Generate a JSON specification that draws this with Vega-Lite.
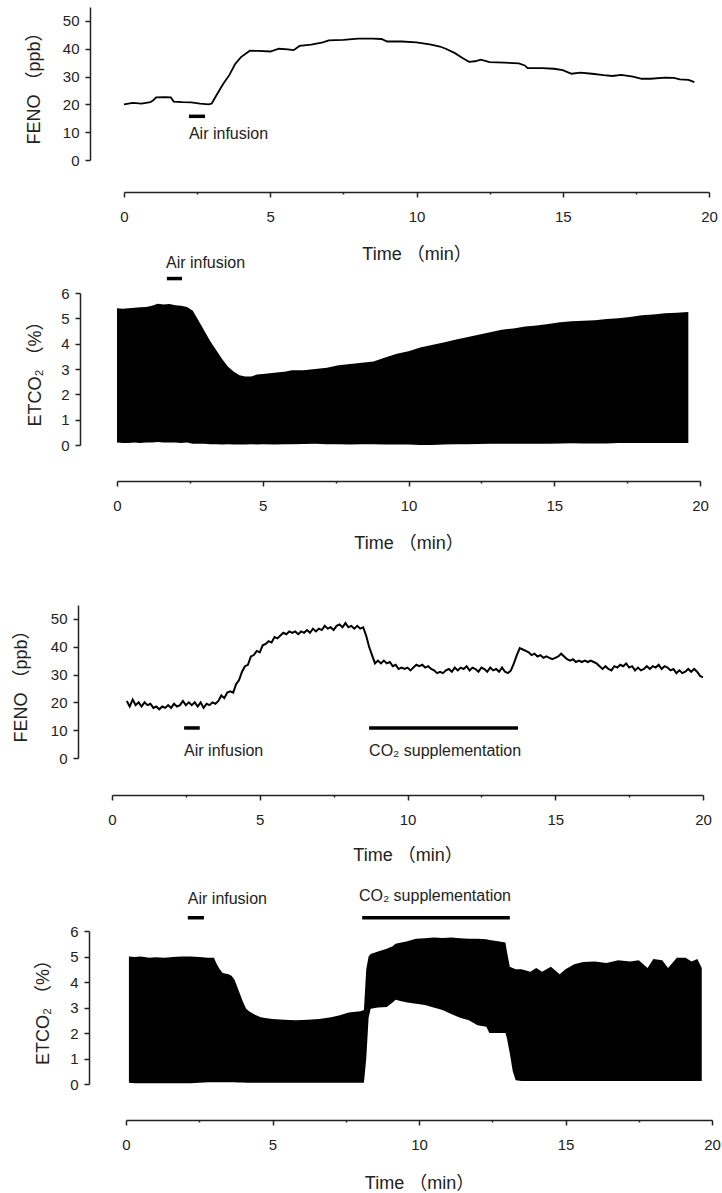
{
  "$schema": "https://vega.github.io/schema/vega-lite/v6.json",
  "padding": {"left": 12, "top": 7, "right": 5, "bottom": 5},
  "bounds": "flush",
  "spacing": 0,
  "config": {
    "view": {"stroke": null},
    "axis": {
      "grid": false,
      "domainColor": "#222",
      "domainWidth": 1.5,
      "tickColor": "#222",
      "tickWidth": 1.5,
      "labelFont": "Liberation Sans",
      "labelFontSize": 15,
      "labelColor": "#222",
      "titleFont": "Liberation Sans, Noto Sans CJK SC",
      "titleFontSize": 18,
      "titleFontWeight": "normal",
      "titleColor": "#222",
      "labelFlush": false,
      "labelOverlap": false
    },
    "axisX": {"tickSize": {"condition": {"test": "datum.value % 5 === 0", "value": 5}, "value": 2}},
    "text": {"font": "Liberation Sans, Noto Sans CJK SC", "fontSize": 16, "color": "#222"}
  },
  "datasets": {
    "fe1": [
      {"t":0.0,"v":20.0},{"t":0.3,"v":20.5},{"t":0.6,"v":20.3},{"t":0.9,"v":20.8},{"t":1.0,"v":21.5},{"t":1.1,"v":22.5},{"t":1.4,"v":22.6},{"t":1.6,"v":22.5},{"t":1.7,"v":21.0},{"t":2.0,"v":20.8},{"t":2.3,"v":20.7},{"t":2.6,"v":20.3},{"t":2.9,"v":20.0},{"t":3.0,"v":20.3},{"t":3.2,"v":24},{"t":3.4,"v":27.5},{"t":3.6,"v":30.5},{"t":3.8,"v":34.5},{"t":4.0,"v":37},{"t":4.3,"v":39.3},{"t":4.6,"v":39.2},{"t":5.0,"v":39},{"t":5.3,"v":40},{"t":5.6,"v":39.8},{"t":5.8,"v":39.5},{"t":6.0,"v":41},{"t":6.4,"v":41.5},{"t":6.8,"v":42.3},{"t":7.0,"v":43},{"t":7.5,"v":43.2},{"t":8.0,"v":43.6},{"t":8.5,"v":43.6},{"t":8.8,"v":43.5},{"t":9.0,"v":42.6},{"t":9.5,"v":42.6},{"t":10.0,"v":42.3},{"t":10.5,"v":41.5},{"t":10.8,"v":40.8},{"t":11.0,"v":40},{"t":11.3,"v":38.5},{"t":11.6,"v":36.5},{"t":11.8,"v":35.3},{"t":12.0,"v":35.5},{"t":12.2,"v":36.1},{"t":12.5,"v":35.2},{"t":13.0,"v":35.0},{"t":13.5,"v":34.7},{"t":13.7,"v":34},{"t":13.8,"v":33},{"t":14.3,"v":33.0},{"t":14.7,"v":32.8},{"t":15.0,"v":32.3},{"t":15.3,"v":31},{"t":15.6,"v":31.4},{"t":16.0,"v":31},{"t":16.4,"v":30.5},{"t":16.7,"v":30.2},{"t":17.0,"v":30.6},{"t":17.4,"v":30},{"t":17.7,"v":29.2},{"t":18.0,"v":29.2},{"t":18.5,"v":29.6},{"t":18.8,"v":29.5},{"t":19.0,"v":29},{"t":19.3,"v":28.8},{"t":19.5,"v":28.0}
    ],
    "et2": [
      {"t":0.0,"v":5.4,"v2":0.1},{"t":0.2,"v":5.38,"v2":0.08},{"t":0.4,"v":5.4,"v2":0.08},{"t":0.6,"v":5.42,"v2":0.1},{"t":0.8,"v":5.44,"v2":0.08},{"t":1.0,"v":5.45,"v2":0.1},{"t":1.2,"v":5.5,"v2":0.1},{"t":1.4,"v":5.58,"v2":0.12},{"t":1.6,"v":5.55,"v2":0.1},{"t":1.8,"v":5.57,"v2":0.1},{"t":2.0,"v":5.52,"v2":0.1},{"t":2.2,"v":5.5,"v2":0.08},{"t":2.4,"v":5.45,"v2":0.1},{"t":2.6,"v":5.3,"v2":0.05},{"t":2.8,"v":4.9,"v2":0.05},{"t":3.0,"v":4.5,"v2":0.05},{"t":3.2,"v":4.1,"v2":0.03},{"t":3.4,"v":3.75,"v2":0.03},{"t":3.6,"v":3.4,"v2":0.02},{"t":3.8,"v":3.1,"v2":0.03},{"t":4.0,"v":2.9,"v2":0.02},{"t":4.2,"v":2.75,"v2":0.02},{"t":4.4,"v":2.7,"v2":0.02},{"t":4.6,"v":2.7,"v2":0.03},{"t":4.8,"v":2.78,"v2":0.02},{"t":5.0,"v":2.8,"v2":0.03},{"t":5.4,"v":2.85,"v2":0.02},{"t":5.8,"v":2.9,"v2":0.03},{"t":6.0,"v":2.95,"v2":0.03},{"t":6.4,"v":2.95,"v2":0.04},{"t":6.8,"v":3.0,"v2":0.05},{"t":7.2,"v":3.05,"v2":0.03},{"t":7.6,"v":3.15,"v2":0.03},{"t":8.0,"v":3.2,"v2":0.02},{"t":8.4,"v":3.25,"v2":0.03},{"t":8.8,"v":3.3,"v2":0.03},{"t":9.2,"v":3.45,"v2":0.02},{"t":9.6,"v":3.6,"v2":0.02},{"t":10.0,"v":3.7,"v2":0.02},{"t":10.4,"v":3.85,"v2":0.0},{"t":10.8,"v":3.95,"v2":0.0},{"t":11.2,"v":4.05,"v2":0.02},{"t":11.6,"v":4.15,"v2":0.03},{"t":12.0,"v":4.25,"v2":0.03},{"t":12.4,"v":4.35,"v2":0.04},{"t":12.8,"v":4.45,"v2":0.05},{"t":13.2,"v":4.55,"v2":0.05},{"t":13.6,"v":4.6,"v2":0.05},{"t":14.0,"v":4.68,"v2":0.05},{"t":14.4,"v":4.72,"v2":0.05},{"t":14.8,"v":4.78,"v2":0.05},{"t":15.2,"v":4.85,"v2":0.06},{"t":15.6,"v":4.88,"v2":0.07},{"t":16.0,"v":4.9,"v2":0.06},{"t":16.4,"v":4.92,"v2":0.06},{"t":16.8,"v":4.97,"v2":0.06},{"t":17.2,"v":5.0,"v2":0.08},{"t":17.6,"v":5.05,"v2":0.08},{"t":18.0,"v":5.12,"v2":0.08},{"t":18.4,"v":5.15,"v2":0.08},{"t":18.8,"v":5.2,"v2":0.08},{"t":19.2,"v":5.22,"v2":0.08},{"t":19.6,"v":5.25,"v2":0.08}
    ],
    "fe3": [
      {"t":0.5,"v":20.5},{"t":0.6,"v":18.5},{"t":0.7,"v":21},{"t":0.8,"v":19},{"t":0.9,"v":20},{"t":1.0,"v":18.5},{"t":1.1,"v":20},{"t":1.2,"v":19},{"t":1.3,"v":19.5},{"t":1.4,"v":18},{"t":1.5,"v":18.5},{"t":1.6,"v":17.5},{"t":1.7,"v":18.5},{"t":1.8,"v":18},{"t":1.9,"v":19},{"t":2.0,"v":18},{"t":2.1,"v":19.5},{"t":2.2,"v":18.5},{"t":2.3,"v":19},{"t":2.4,"v":20.5},{"t":2.5,"v":19},{"t":2.6,"v":20},{"t":2.7,"v":19},{"t":2.8,"v":20},{"t":2.9,"v":18.5},{"t":3.0,"v":20},{"t":3.1,"v":18},{"t":3.2,"v":19.5},{"t":3.3,"v":19},{"t":3.4,"v":20},{"t":3.5,"v":19.5},{"t":3.6,"v":20.5},{"t":3.7,"v":22.5},{"t":3.8,"v":21.5},{"t":3.9,"v":23.5},{"t":4.0,"v":24},{"t":4.1,"v":23.5},{"t":4.2,"v":26.5},{"t":4.3,"v":28},{"t":4.4,"v":31},{"t":4.5,"v":33},{"t":4.6,"v":33.5},{"t":4.7,"v":36.5},{"t":4.8,"v":37},{"t":4.9,"v":38.5},{"t":5.0,"v":38},{"t":5.1,"v":40.5},{"t":5.2,"v":41},{"t":5.3,"v":42},{"t":5.4,"v":41.5},{"t":5.5,"v":43.5},{"t":5.6,"v":43},{"t":5.7,"v":44},{"t":5.8,"v":45},{"t":5.9,"v":44.5},{"t":6.0,"v":45.5},{"t":6.1,"v":45},{"t":6.2,"v":45.5},{"t":6.3,"v":44.5},{"t":6.4,"v":45.5},{"t":6.5,"v":45},{"t":6.6,"v":46},{"t":6.7,"v":45},{"t":6.8,"v":46.5},{"t":6.9,"v":45.5},{"t":7.0,"v":46.5},{"t":7.1,"v":46},{"t":7.2,"v":47.5},{"t":7.3,"v":46.5},{"t":7.4,"v":47},{"t":7.5,"v":46},{"t":7.6,"v":47.5},{"t":7.7,"v":48},{"t":7.8,"v":47},{"t":7.9,"v":48.5},{"t":8.0,"v":47},{"t":8.1,"v":47.5},{"t":8.2,"v":46.5},{"t":8.3,"v":47.5},{"t":8.4,"v":46.5},{"t":8.5,"v":47},{"t":8.6,"v":44},{"t":8.7,"v":40},{"t":8.8,"v":37},{"t":8.9,"v":34},{"t":9.0,"v":35},{"t":9.1,"v":34},{"t":9.2,"v":35},{"t":9.3,"v":34},{"t":9.4,"v":34.5},{"t":9.5,"v":33},{"t":9.6,"v":33.5},{"t":9.7,"v":32},{"t":9.8,"v":32.5},{"t":9.9,"v":32},{"t":10.0,"v":32.5},{"t":10.1,"v":31.5},{"t":10.2,"v":32.5},{"t":10.3,"v":33.5},{"t":10.4,"v":33},{"t":10.5,"v":33.5},{"t":10.6,"v":32.5},{"t":10.7,"v":33},{"t":10.8,"v":32},{"t":10.9,"v":31.5},{"t":11.0,"v":30.5},{"t":11.1,"v":31},{"t":11.2,"v":30.5},{"t":11.3,"v":31.5},{"t":11.4,"v":32},{"t":11.5,"v":31},{"t":11.6,"v":32.5},{"t":11.7,"v":31.5},{"t":11.8,"v":32.5},{"t":11.9,"v":32},{"t":12.0,"v":33},{"t":12.1,"v":31.5},{"t":12.2,"v":32.5},{"t":12.3,"v":32},{"t":12.4,"v":31},{"t":12.5,"v":32.5},{"t":12.6,"v":32},{"t":12.7,"v":31},{"t":12.8,"v":32.5},{"t":12.9,"v":31.5},{"t":13.0,"v":32},{"t":13.1,"v":31},{"t":13.2,"v":32.5},{"t":13.3,"v":31},{"t":13.4,"v":30.5},{"t":13.5,"v":31.5},{"t":13.6,"v":34},{"t":13.7,"v":37},{"t":13.8,"v":39.5},{"t":13.9,"v":39},{"t":14.0,"v":38.5},{"t":14.1,"v":38},{"t":14.2,"v":37},{"t":14.3,"v":37.5},{"t":14.4,"v":36.5},{"t":14.5,"v":37},{"t":14.6,"v":36},{"t":14.7,"v":36.5},{"t":14.8,"v":36},{"t":14.9,"v":35.5},{"t":15.0,"v":36},{"t":15.1,"v":36.5},{"t":15.2,"v":37.5},{"t":15.3,"v":36.5},{"t":15.4,"v":35.5},{"t":15.5,"v":35},{"t":15.6,"v":35.5},{"t":15.7,"v":34.5},{"t":15.8,"v":35},{"t":15.9,"v":34.5},{"t":16.0,"v":35},{"t":16.1,"v":34.5},{"t":16.2,"v":35},{"t":16.3,"v":34.5},{"t":16.4,"v":34},{"t":16.5,"v":33},{"t":16.6,"v":32},{"t":16.7,"v":33},{"t":16.8,"v":32},{"t":16.9,"v":31.5},{"t":17.0,"v":33},{"t":17.1,"v":32.5},{"t":17.2,"v":33.5},{"t":17.3,"v":33},{"t":17.4,"v":34},{"t":17.5,"v":32.5},{"t":17.6,"v":33},{"t":17.7,"v":31.5},{"t":17.8,"v":32.5},{"t":17.9,"v":31.5},{"t":18.0,"v":32},{"t":18.1,"v":33},{"t":18.2,"v":32},{"t":18.3,"v":33},{"t":18.4,"v":32.5},{"t":18.5,"v":33.5},{"t":18.6,"v":32},{"t":18.7,"v":33},{"t":18.8,"v":32.5},{"t":18.9,"v":31.5},{"t":19.0,"v":32},{"t":19.1,"v":30.5},{"t":19.2,"v":31.5},{"t":19.3,"v":30.5},{"t":19.4,"v":31},{"t":19.5,"v":32},{"t":19.6,"v":31},{"t":19.7,"v":32},{"t":19.8,"v":31},{"t":19.9,"v":29.5},{"t":20.0,"v":29}
    ],
    "et4": [
      {"t":0.1,"v":5.0,"v2":0.05},{"t":0.3,"v":4.98,"v2":0.03},{"t":0.5,"v":5.0,"v2":0.03},{"t":0.8,"v":4.95,"v2":0.03},{"t":1.0,"v":4.97,"v2":0.03},{"t":1.3,"v":4.95,"v2":0.03},{"t":1.6,"v":4.98,"v2":0.03},{"t":1.9,"v":5.0,"v2":0.03},{"t":2.2,"v":5.0,"v2":0.03},{"t":2.5,"v":4.98,"v2":0.05},{"t":2.8,"v":4.95,"v2":0.07},{"t":3.0,"v":4.95,"v2":0.07},{"t":3.1,"v":4.7,"v2":0.07},{"t":3.2,"v":4.5,"v2":0.07},{"t":3.3,"v":4.35,"v2":0.07},{"t":3.5,"v":4.3,"v2":0.07},{"t":3.6,"v":4.25,"v2":0.07},{"t":3.7,"v":4.1,"v2":0.07},{"t":3.8,"v":3.8,"v2":0.06},{"t":3.9,"v":3.5,"v2":0.06},{"t":4.0,"v":3.2,"v2":0.06},{"t":4.1,"v":2.95,"v2":0.05},{"t":4.2,"v":2.85,"v2":0.05},{"t":4.4,"v":2.72,"v2":0.05},{"t":4.6,"v":2.62,"v2":0.05},{"t":4.8,"v":2.58,"v2":0.05},{"t":5.0,"v":2.55,"v2":0.05},{"t":5.4,"v":2.52,"v2":0.05},{"t":5.8,"v":2.5,"v2":0.05},{"t":6.2,"v":2.52,"v2":0.05},{"t":6.6,"v":2.55,"v2":0.05},{"t":7.0,"v":2.62,"v2":0.05},{"t":7.3,"v":2.7,"v2":0.05},{"t":7.6,"v":2.8,"v2":0.05},{"t":8.0,"v":2.85,"v2":0.05},{"t":8.12,"v":2.9,"v2":0.05},{"t":8.2,"v":4.5,"v2":1.0},{"t":8.28,"v":5.0,"v2":2.6},{"t":8.35,"v":5.1,"v2":2.95},{"t":8.6,"v":5.2,"v2":3.0},{"t":8.9,"v":5.3,"v2":3.02},{"t":9.1,"v":5.4,"v2":3.2},{"t":9.2,"v":5.5,"v2":3.3},{"t":9.4,"v":5.55,"v2":3.25},{"t":9.6,"v":5.6,"v2":3.2},{"t":9.9,"v":5.7,"v2":3.15},{"t":10.2,"v":5.72,"v2":3.1},{"t":10.5,"v":5.75,"v2":3.0},{"t":10.8,"v":5.73,"v2":2.9},{"t":11.1,"v":5.75,"v2":2.75},{"t":11.4,"v":5.72,"v2":2.6},{"t":11.7,"v":5.7,"v2":2.5},{"t":12.0,"v":5.7,"v2":2.3},{"t":12.3,"v":5.68,"v2":2.25},{"t":12.4,"v":5.65,"v2":2.0},{"t":12.7,"v":5.6,"v2":2.0},{"t":12.95,"v":5.55,"v2":2.0},{"t":13.0,"v":5.2,"v2":1.8},{"t":13.1,"v":4.6,"v2":1.2},{"t":13.2,"v":4.55,"v2":0.5},{"t":13.3,"v":4.5,"v2":0.15},{"t":13.5,"v":4.5,"v2":0.12},{"t":13.8,"v":4.4,"v2":0.12},{"t":14.0,"v":4.55,"v2":0.12},{"t":14.2,"v":4.4,"v2":0.12},{"t":14.5,"v":4.6,"v2":0.12},{"t":14.8,"v":4.3,"v2":0.12},{"t":15.0,"v":4.5,"v2":0.12},{"t":15.3,"v":4.7,"v2":0.12},{"t":15.6,"v":4.78,"v2":0.12},{"t":16.0,"v":4.8,"v2":0.12},{"t":16.4,"v":4.75,"v2":0.12},{"t":16.8,"v":4.85,"v2":0.12},{"t":17.2,"v":4.8,"v2":0.12},{"t":17.5,"v":4.85,"v2":0.12},{"t":17.8,"v":4.55,"v2":0.12},{"t":18.0,"v":4.9,"v2":0.12},{"t":18.3,"v":4.85,"v2":0.12},{"t":18.5,"v":4.55,"v2":0.12},{"t":18.8,"v":4.95,"v2":0.12},{"t":19.1,"v":4.95,"v2":0.12},{"t":19.3,"v":4.8,"v2":0.12},{"t":19.5,"v":4.9,"v2":0.12},{"t":19.65,"v":4.55,"v2":0.12}
    ],
    "ann": [
      {"p":1,"k":"bar","t":2.22,"t2":2.77,"v":15.7},
      {"p":1,"k":"text","t":2.22,"v":9.3,"label":"Air infusion"},
      {"p":2,"k":"bar","t":1.71,"t2":2.23,"v":6.57},
      {"p":2,"k":"text","t":1.68,"v":7.2,"label":"Air infusion"},
      {"p":3,"k":"bar","t":2.44,"t2":2.97,"v":10.8},
      {"p":3,"k":"text","t":2.44,"v":2.4,"label":"Air infusion"},
      {"p":3,"k":"bar","t":8.7,"t2":13.74,"v":10.8},
      {"p":3,"k":"text","t":8.7,"v":2.4,"label":"CO₂ supplementation"},
      {"p":4,"k":"bar","t":2.11,"t2":2.66,"v":6.52},
      {"p":4,"k":"text","t":2.11,"v":7.25,"label":"Air infusion"},
      {"p":4,"k":"bar","t":8.06,"t2":13.1,"v":6.52},
      {"p":4,"k":"text","t":7.95,"v":7.37,"label":"CO₂ supplementation"}
    ]
  },
  "vconcat": [
    {
      "width": 620,
      "height": 153,
      "encoding": {
        "x": {"field": "t", "type": "quantitative", "scale": {"domain": [0, 20], "range": [24, 609], "nice": false},
          "axis": {"title": "Time （min）", "values": [0,2.5,5,7.5,10,12.5,15,17.5,20], "labelExpr": "datum.value % 5 === 0 ? datum.label : ''", "offset": 32, "labelPadding": 12, "titlePadding": 21}},
        "y": {"field": "v", "type": "quantitative", "scale": {"domain": [0, 55], "nice": false},
          "axis": {"title": "FENO （ppb）", "values": [0,10,20,30,40,50], "offset": 10, "tickSize": 5, "labelPadding": 6, "titlePadding": 19}}
      },
      "layer": [
        {"data": {"name": "fe1"}, "mark": {"type": "line", "color": "black", "strokeWidth": 1.8}},
        {"data": {"name": "ann"}, "transform": [{"filter": "datum.p === 1 && datum.k === 'bar'"}], "mark": {"type": "rule", "color": "black", "strokeWidth": 3.5}, "encoding": {"x2": {"field": "t2"}}},
        {"data": {"name": "ann"}, "transform": [{"filter": "datum.p === 1 && datum.k === 'text'"}], "mark": {"type": "text", "align": "left", "baseline": "middle"}, "encoding": {"text": {"field": "label"}}}
      ]
    },
    {
      "width": 620,
      "height": 285,
      "encoding": {
        "x": {"field": "t", "type": "quantitative", "scale": {"domain": [0, 20], "range": [17, 600], "nice": false},
          "axis": {"title": "Time （min）", "values": [0,2.5,5,7.5,10,12.5,15,17.5,20], "labelExpr": "datum.value % 5 === 0 ? datum.label : ''", "offset": 36, "labelPadding": 12, "titlePadding": 21}},
        "y": {"field": "v", "type": "quantitative", "scale": {"domain": [0, 6], "range": [285, 133], "nice": false},
          "axis": {"title": "ETCO₂ （%）", "values": [0,1,2,3,4,5,6], "offset": 20, "tickSize": 5, "labelPadding": 6, "titlePadding": 16}}
      },
      "layer": [
        {"data": {"name": "et2"}, "mark": {"type": "area", "color": "black"}, "encoding": {"y2": {"field": "v2"}}},
        {"data": {"name": "ann"}, "transform": [{"filter": "datum.p === 2 && datum.k === 'bar'"}], "mark": {"type": "rule", "color": "black", "strokeWidth": 3.5}, "encoding": {"x2": {"field": "t2"}}},
        {"data": {"name": "ann"}, "transform": [{"filter": "datum.p === 2 && datum.k === 'text'"}], "mark": {"type": "text", "align": "left", "baseline": "middle"}, "encoding": {"text": {"field": "label"}}}
      ]
    },
    {
      "width": 620,
      "height": 313,
      "encoding": {
        "x": {"field": "t", "type": "quantitative", "scale": {"domain": [0, 20], "range": [12, 603], "nice": false},
          "axis": {"title": "Time （min）", "values": [0,2.5,5,7.5,10,12.5,15,17.5,20], "labelExpr": "datum.value % 5 === 0 ? datum.label : ''", "offset": 37, "labelPadding": 12, "titlePadding": 19}},
        "y": {"field": "v", "type": "quantitative", "scale": {"domain": [0, 55], "range": [313, 160], "nice": false},
          "axis": {"title": "FENO （ppb）", "values": [0,10,20,30,40,50], "offset": 22, "tickSize": 5, "labelPadding": 6, "titlePadding": 20}}
      },
      "layer": [
        {"data": {"name": "fe3"}, "mark": {"type": "line", "color": "black", "strokeWidth": 2}},
        {"data": {"name": "ann"}, "transform": [{"filter": "datum.p === 3 && datum.k === 'bar'"}], "mark": {"type": "rule", "color": "black", "strokeWidth": 3.5}, "encoding": {"x2": {"field": "t2"}}},
        {"data": {"name": "ann"}, "transform": [{"filter": "datum.p === 3 && datum.k === 'text'"}], "mark": {"type": "text", "align": "left", "baseline": "middle"}, "encoding": {"text": {"field": "label"}}}
      ]
    },
    {
      "width": 620,
      "height": 326,
      "encoding": {
        "x": {"field": "t", "type": "quantitative", "scale": {"domain": [0, 20], "range": [26, 612], "nice": false},
          "axis": {"title": "Time （min）", "values": [0,2.5,5,7.5,10,12.5,15,17.5,20], "labelExpr": "datum.value % 5 === 0 ? datum.label : ''", "offset": 36, "labelPadding": 12, "titlePadding": 22}},
        "y": {"field": "v", "type": "quantitative", "scale": {"domain": [0, 6], "range": [326, 173], "nice": false},
          "axis": {"title": "ETCO₂ （%）", "values": [0,1,2,3,4,5,6], "offset": 11, "tickSize": 5, "labelPadding": 6, "titlePadding": 17}}
      },
      "layer": [
        {"data": {"name": "et4"}, "mark": {"type": "area", "color": "black"}, "encoding": {"y2": {"field": "v2"}}},
        {"data": {"name": "ann"}, "transform": [{"filter": "datum.p === 4 && datum.k === 'bar'"}], "mark": {"type": "rule", "color": "black", "strokeWidth": 3.5}, "encoding": {"x2": {"field": "t2"}}},
        {"data": {"name": "ann"}, "transform": [{"filter": "datum.p === 4 && datum.k === 'text'"}], "mark": {"type": "text", "align": "left", "baseline": "middle"}, "encoding": {"text": {"field": "label"}}}
      ]
    }
  ]
}
